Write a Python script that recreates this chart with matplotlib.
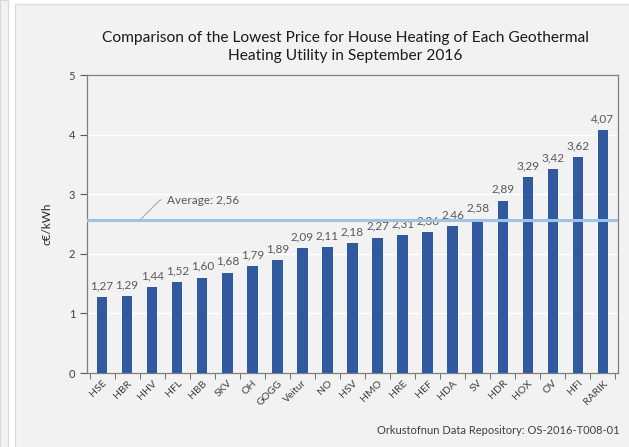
import matplotlib.pyplot as plt
from matplotlib.patches import Rectangle

plt.rcParams['font.family'] = ['Lato', 'DejaVu Sans']

utilities = ['HSE', 'HBR', 'HHV', 'HFL', 'HBB', 'SKV', 'OH', 'GOGG', 'Veitur', 'NO',
             'HSV', 'HMO', 'HRE', 'HEF', 'HDA', 'SV', 'HDR', 'HOX', 'OV', 'HFI', 'RARIK']
prices = [1.27, 1.29, 1.44, 1.52, 1.60, 1.68, 1.79, 1.89, 2.09, 2.11,
          2.18, 2.27, 2.31, 2.36, 2.46, 2.58, 2.89, 3.29, 3.42, 3.62, 4.07]
average = 2.56

bg = '#f2f2f2'
fig = plt.figure(figsize=(6.29, 4.47), dpi=100, facecolor='white')

# outer panels
fig.patches.append(Rectangle((0, 0), 8 / 629, 1, transform=fig.transFigure,
                             facecolor=bg, edgecolor='#d9d9d9', lw=0.8, zorder=-5))
fig.patches.append(Rectangle((15 / 629, -0.01), 1, 1 - 4 / 447 + 0.01, transform=fig.transFigure,
                             facecolor=bg, edgecolor='#d9d9d9', lw=0.8, zorder=-5))

ax = fig.add_axes([87 / 629, 1 - 373 / 447, (618 - 87) / 629, (373 - 75) / 447])
ax.set_facecolor(bg)

x = range(len(utilities))
ax.bar(x, prices, width=0.42, color='#3159a0', zorder=3)
for i, v in zip(x, prices):
    ax.text(i, v + 0.1, f'{v:.2f}'.replace('.', ','), ha='center', va='bottom',
            fontsize=8.5, color='#595959')

ax.axhline(average, color='#9dc3e6', lw=2.2, zorder=4)

ax.set_xlim(-0.6, len(utilities) - 0.4)
ax.set_ylim(0, 5)
ax.set_yticks([0, 1, 2, 3, 4, 5])
ax.set_xticks(list(x))
ax.set_xticklabels(utilities, rotation=45, ha='right', rotation_mode='anchor', fontsize=7.5)
ax.set_xticks([i + 0.5 for i in range(-1, len(utilities))], minor=True)
ax.tick_params(axis='x', which='major', length=0, pad=4, labelcolor='#404040')
ax.tick_params(axis='x', which='minor', length=4, color='#595959')
ax.tick_params(axis='y', length=5, color='#595959', labelsize=8, labelcolor='#404040')
ax.grid(axis='y', color='white', lw=1.0, zorder=0)
for s in ax.spines.values():
    s.set_color('#7f7f7f')
    s.set_linewidth(0.9)

ax.set_ylabel('c€/kWh', fontsize=8.5, color='#262626', labelpad=12)

# average annotation
ax.annotate('Average: 2,56', xy=(140, 447 - 220), xycoords='figure pixels',
            xytext=(167, 447 - 200), textcoords='figure pixels', fontsize=8.5, color='#595959',
            va='center', ha='left',
            arrowprops=dict(arrowstyle='-', color='#a6a6a6', lw=0.8, shrinkA=2, shrinkB=0,
                            connectionstyle='angle,angleA=0,angleB=45,rad=0'))

fig.text(345 / 629, 1 - 47 / 447,
         'Comparison of the Lowest Price for House Heating of Each Geothermal\nHeating Utility in September 2016',
         ha='center', va='center', fontsize=11.2, color='#1a1a1a', linespacing=1.45)
fig.text(620 / 629, 1 - 431 / 447, 'Orkustofnun Data Repository: OS-2016-T008-01',
         ha='right', va='center', fontsize=8, color='#404040')

fig.savefig('out.png', dpi=100, facecolor=fig.get_facecolor())
